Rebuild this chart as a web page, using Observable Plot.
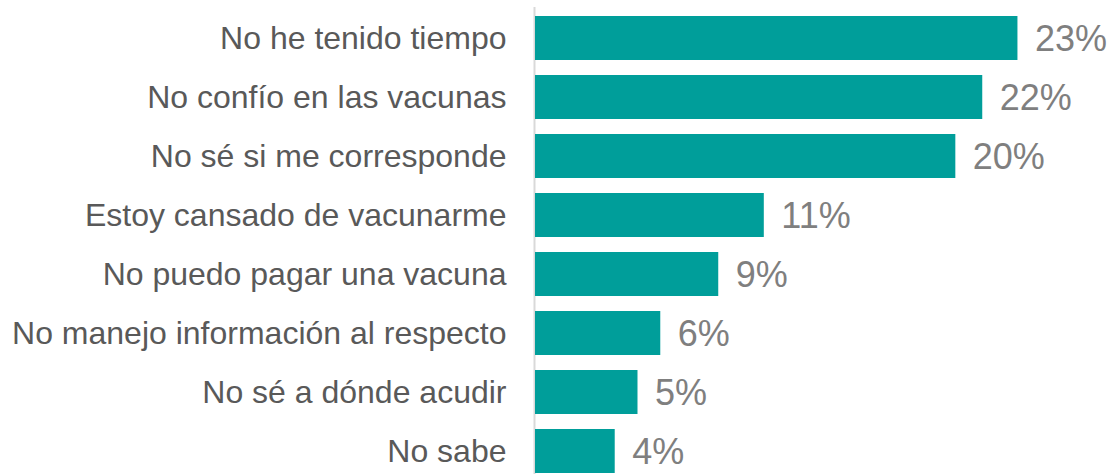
<!DOCTYPE html>
<html>
<head>
<meta charset="utf-8">
<script src="https://cdn.jsdelivr.net/npm/d3@7"></script>
<script src="https://cdn.jsdelivr.net/npm/@observablehq/plot@0.6"></script>
<style>
  html, body { margin: 0; padding: 0; background: #ffffff; }
  #chart svg { display: block; }
</style>
</head>
<body>
<div id="chart"></div>
<script>
const categories = [
  "No he tenido tiempo",
  "No confío en las vacunas",
  "No sé si me corresponde",
  "Estoy cansado de vacunarme",
  "No puedo pagar una vacuna",
  "No manejo información al respecto",
  "No sé a dónde acudir",
  "No sabe"
];
const values = [23.3, 21.6, 20.3, 11.05, 8.85, 6.05, 4.95, 3.85];
const valueLabels = ["23%", "22%", "20%", "11%", "9%", "6%", "5%", "4%"];

const data = categories.map((c, i) => ({category: c, value: values[i], label: valueLabels[i]}));

const chart = Plot.plot({
  width: 1114,
  height: 474,
  marginLeft: 535,
  marginRight: 51,
  marginTop: 7,
  marginBottom: 0,
  style: {fontFamily: "'Liberation Sans', Arial, sans-serif", background: "#ffffff"},
  x: {domain: [0, 25.5], axis: null},
  y: {domain: categories, range: [15, 474], paddingInner: 0.26, paddingOuter: 0, label: null},
  marks: [
    Plot.ruleX([0], {stroke: "#d9d9d9", strokeWidth: 2, dx: -1}),
    Plot.barX(data, {x: "value", y: "category", fill: "#009e9a"}),
    Plot.text(data, {x: "value", y: "category", text: "label", textAnchor: "start", dx: 17, dy: 1, fontSize: 36, fill: "#7f7f7f"}),
    Plot.axisY({tickSize: 0, tickPadding: 29, fontSize: 32, color: "#595959", label: null})
  ]
});
document.getElementById("chart").appendChild(chart);
</script>
</body>
</html>
